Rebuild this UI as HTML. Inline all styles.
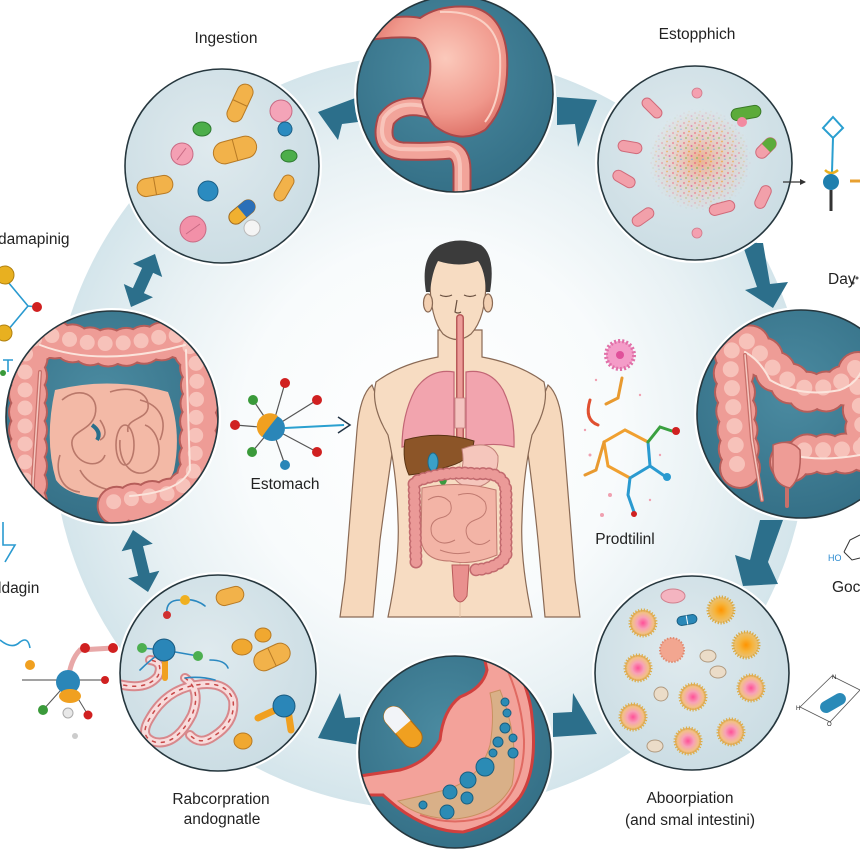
<!DOCTYPE html>
<html><head><meta charset="utf-8"><style>
html,body{margin:0;padding:0;background:#fff;}
svg{display:block}
text{font-family:"Liberation Sans",Arial,sans-serif;fill:#222}
</style></head><body>
<svg width="860" height="860" viewBox="0 0 860 860" xmlns="http://www.w3.org/2000/svg">
<defs>
 <radialGradient id="ring" cx="430" cy="432" r="378" gradientUnits="userSpaceOnUse">
  <stop offset="0" stop-color="#ffffff"/>
  <stop offset="0.5" stop-color="#f8fbfc"/>
  <stop offset="0.76" stop-color="#e8f1f4"/>
  <stop offset="1" stop-color="#d4e5eb"/>
 </radialGradient>
 <radialGradient id="teal" cx="0.45" cy="0.4" r="0.65">
  <stop offset="0" stop-color="#4b8ba1"/>
  <stop offset="1" stop-color="#336e85"/>
 </radialGradient>
 <radialGradient id="lite" cx="0.45" cy="0.4" r="0.65">
  <stop offset="0" stop-color="#dfeaee"/>
  <stop offset="1" stop-color="#cadce3"/>
 </radialGradient>
 <radialGradient id="stom" cx="0.55" cy="0.4" r="0.6">
  <stop offset="0" stop-color="#fbc9bb"/>
  <stop offset="0.7" stop-color="#f0988c"/>
  <stop offset="1" stop-color="#e0766c"/>
 </radialGradient>
 <radialGradient id="gP" cx="0.5" cy="0.5" r="0.5">
  <stop offset="0" stop-color="#ff4f98"/>
  <stop offset="0.45" stop-color="#f7a2b6"/>
  <stop offset="0.8" stop-color="#f2c088"/>
  <stop offset="1" stop-color="#e2a450"/>
 </radialGradient>
 <radialGradient id="gO" cx="0.5" cy="0.5" r="0.5">
  <stop offset="0" stop-color="#ff9400"/>
  <stop offset="0.5" stop-color="#f6b43c"/>
  <stop offset="1" stop-color="#e8c27a"/>
 </radialGradient>
 <radialGradient id="cloud" cx="0.5" cy="0.5" r="0.5">
  <stop offset="0" stop-color="#f0a070" stop-opacity="0.75"/>
  <stop offset="0.6" stop-color="#f3b4a0" stop-opacity="0.35"/>
  <stop offset="1" stop-color="#f3b4a0" stop-opacity="0"/>
 </radialGradient>
 <radialGradient id="maskG" cx="0.5" cy="0.5" r="0.5">
  <stop offset="0" stop-color="#fff"/>
  <stop offset="0.6" stop-color="#bbb"/>
  <stop offset="1" stop-color="#000"/>
 </radialGradient>
 <pattern id="speck" width="11" height="10" patternUnits="userSpaceOnUse">
  <circle cx="2" cy="3" r="1" fill="#ef6f7f"/>
  <circle cx="7" cy="1.5" r="0.9" fill="#f2a030"/>
  <circle cx="9.5" cy="6" r="1" fill="#e0609a"/>
  <circle cx="4" cy="8" r="0.9" fill="#7fb850"/>
  <circle cx="6" cy="5" r="0.8" fill="#f08050"/>
  <circle cx="10" cy="9.3" r="0.7" fill="#5aa0e0"/>
 </pattern>
 <mask id="cm"><circle cx="700" cy="160" r="52" fill="url(#maskG)"/></mask>
 <clipPath id="k1"><circle cx="222" cy="166" r="97"/></clipPath>
 <clipPath id="k2"><circle cx="455" cy="94" r="98"/></clipPath>
 <clipPath id="k3"><circle cx="695" cy="163" r="97"/></clipPath>
 <clipPath id="k4"><circle cx="801" cy="414" r="104"/></clipPath>
 <clipPath id="k5"><circle cx="692" cy="673" r="97"/></clipPath>
 <clipPath id="k6"><circle cx="455" cy="752" r="96"/></clipPath>
 <clipPath id="k7"><circle cx="218" cy="673" r="98"/></clipPath>
 <clipPath id="k8"><circle cx="112" cy="417" r="106"/></clipPath>
 <g id="spP"><circle r="13" fill="url(#gP)" stroke="#dcae4a" stroke-width="3" stroke-dasharray="1.2 1.6"/></g>
 <g id="spO"><circle r="13" fill="url(#gO)" stroke="#d8a840" stroke-width="3" stroke-dasharray="1.2 1.6"/></g>
</defs>

<rect width="860" height="860" fill="#fff"/>
<circle cx="430" cy="432" r="378" fill="url(#ring)"/>

<!-- arrows -->
<g fill="#2c6f8b">
 <polygon points="358,97 318,112 338,140 342,124 358,122"/>
 <polygon points="557,97 597,100 578,147 575,124 557,125"/>
 <polygon points="742,243 763,243 770,284 788,282 773,308 745,290 757,287"/>
 <polygon points="760,520 783,520 768,562 778,584 743,586 735,555 750,560"/>
 <polygon points="553,713 572,712 573,693 597,734 553,737"/>
 <polygon points="360,717 345,718 340,693 318,738 360,745"/>
 <polygon points="133,530 152.8,543.7 143,546.1 149.6,573.1 159.4,570.7 148,592 128.2,578.3 138,575.9 131.4,548.9 121.6,551.3"/>
 <polygon points="155,254 162.2,277 153.1,272.9 143.9,293.1 153,297.2 131,307 123.8,284 132.9,288.1 142.1,267.9 133,263.8"/>
</g>

<!-- circle bases -->
<g stroke="#fff" stroke-width="6" fill="#fff">
 <circle cx="222" cy="166" r="97"/><circle cx="455" cy="94" r="98"/><circle cx="695" cy="163" r="97"/>
 <circle cx="801" cy="414" r="104"/><circle cx="692" cy="673" r="97"/><circle cx="455" cy="752" r="96"/>
 <circle cx="218" cy="673" r="98"/><circle cx="112" cy="417" r="106"/>
</g>
<g fill="url(#lite)">
 <circle cx="222" cy="166" r="97"/><circle cx="695" cy="163" r="97"/><circle cx="692" cy="673" r="97"/><circle cx="218" cy="673" r="98"/>
</g>
<g fill="url(#teal)">
 <circle cx="455" cy="94" r="98"/><circle cx="801" cy="414" r="104"/><circle cx="455" cy="752" r="96"/><circle cx="112" cy="417" r="106"/>
</g>

<!-- C1 pills -->
<g clip-path="url(#k1)">
 <g transform="translate(240,103) rotate(-65)"><rect x="-20" y="-8" width="40" height="16" rx="8" fill="#f2b24a" stroke="#b77a25"/><line x1="0" y1="-8" x2="0" y2="8" stroke="#b77a25"/></g>
 <circle cx="281" cy="111" r="11" fill="#f4a4b8" stroke="#c86a84"/>
 <circle cx="285" cy="129" r="7" fill="#2b8bc0" stroke="#1d5f85"/>
 <ellipse cx="202" cy="129" rx="9" ry="7" fill="#4cae4a" stroke="#2e7a30"/>
 <circle cx="182" cy="154" r="11" fill="#f4a0b4" stroke="#c86a84"/>
 <line x1="177" y1="160" x2="186" y2="148" stroke="#c86a84"/>
 <g transform="translate(235,150) rotate(-15)"><rect x="-22" y="-11" width="44" height="22" rx="11" fill="#f2b24a" stroke="#b77a25"/><line x1="0" y1="-11" x2="0" y2="11" stroke="#b77a25"/></g>
 <ellipse cx="289" cy="156" rx="8" ry="6" fill="#4cae4a" stroke="#2e7a30"/>
 <g transform="translate(155,186) rotate(-10)"><rect x="-18" y="-9" width="36" height="18" rx="9" fill="#f2b24a" stroke="#b77a25"/><line x1="0" y1="-9" x2="0" y2="9" stroke="#b77a25"/></g>
 <circle cx="208" cy="191" r="10" fill="#2b8bc0" stroke="#1d5f85"/>
 <g transform="translate(284,188) rotate(-60)"><rect x="-14" y="-6" width="28" height="12" rx="6" fill="#f2b24a" stroke="#b77a25"/></g>
 <g transform="translate(242,212) rotate(-40)"><rect x="-15" y="-7" width="30" height="14" rx="7" fill="#f0b030" stroke="#a06a20"/><path d="M0,-7 L8,-7 A7,7 0 0 1 8,7 L0,7 Z" fill="#2b6fb8"/></g>
 <circle cx="252" cy="228" r="8" fill="#f4f4f4" stroke="#bbb"/>
 <circle cx="193" cy="229" r="13" fill="#f290a8" stroke="#c86a84"/>
 <line x1="186" y1="234" x2="200" y2="224" stroke="#c86a84"/>
</g>

<!-- C2 stomach -->
<g clip-path="url(#k2)">
 <path d="M432,110 Q400,100 386,120 Q378,148 402,151 Q430,152 450,150 Q462,152 462,170 L462,205" fill="none" stroke="#a8484a" stroke-width="19" stroke-linecap="round"/>
 <path d="M432,110 Q400,100 386,120 Q378,148 402,151 Q430,152 450,150 Q462,152 462,170 L462,205" fill="none" stroke="#f2a49a" stroke-width="15"/>
 <path d="M432,110 Q400,100 386,120 Q378,148 402,151 Q430,152 450,150 Q462,152 462,170 L462,205" fill="none" stroke="#f8c4ba" stroke-width="4" transform="translate(-2,-2)"/>
 <path d="M370,22 Q402,14 420,18 Q440,4 472,7 Q503,14 507,55 Q510,105 485,130 Q460,145 435,126 Q425,115 422,100 Q432,80 430,60 Q426,42 415,38 Q395,36 370,40 Z" fill="url(#stom)" stroke="#a8484a" stroke-width="2"/>
 <path d="M440,12 Q495,10 500,55 Q502,100 485,122" fill="none" stroke="#fad0c4" stroke-width="2"/>
</g>

<!-- C3 particles -->
<g clip-path="url(#k3)">
 <circle cx="700" cy="160" r="50" fill="url(#cloud)"/>
 <circle cx="700" cy="160" r="52" fill="url(#speck)" mask="url(#cm)"/>
 <g fill="#f2a0aa" stroke="#d06a7a">
  <g transform="translate(652,108) rotate(45)"><rect x="-12" y="-5" width="24" height="10" rx="5"/></g>
  <g transform="translate(630,147) rotate(10)"><rect x="-12" y="-5.5" width="24" height="11" rx="5.5"/></g>
  <g transform="translate(624,179) rotate(30)"><rect x="-12" y="-5.5" width="24" height="11" rx="5.5"/></g>
  <g transform="translate(643,217) rotate(-35)"><rect x="-12" y="-5.5" width="24" height="11" rx="5.5"/></g>
  <g transform="translate(722,208) rotate(-15)"><rect x="-13" y="-5.5" width="26" height="11" rx="5.5"/></g>
  <g transform="translate(763,197) rotate(-65)"><rect x="-12" y="-5.5" width="24" height="11" rx="5.5"/></g>
 </g>
 <g transform="translate(746,113) rotate(-10)"><rect x="-15" y="-6" width="30" height="12" rx="6" fill="#5cab3a" stroke="#3a7a28"/></g>
 <circle cx="742" cy="122" r="5" fill="#f28aa0"/>
 <g transform="translate(766,148) rotate(-45)"><rect x="-12" y="-6" width="24" height="12" rx="6" fill="#f2a0aa" stroke="#d06a7a"/><path d="M0,-6 L6,-6 A6,6 0 0 1 6,6 L0,6 Z" fill="#5cab3a"/></g>
 <circle cx="697" cy="93" r="5" fill="#f4a0b0" stroke="#d07a8a" stroke-width="0.8"/>
 <circle cx="697" cy="233" r="5" fill="#f4a0b0" stroke="#d07a8a" stroke-width="0.8"/>
</g>

<!-- C4 colon right -->
<g clip-path="url(#k4)">
 <g fill="none" stroke-linecap="round">
  <path d="M740,468 L733,362 Q735,342 755,346 Q778,382 808,392 Q840,395 862,372 M858,372 L868,450 M790,462 Q805,450 832,455 L875,450" stroke="#b65e5a" stroke-width="42" stroke-dasharray="0 19"/>
  <path d="M740,468 L733,362 Q735,342 755,346 Q778,382 808,392 Q840,395 862,372 M858,372 L868,450 M790,462 Q805,450 832,455 L875,450" stroke="#ee9c96" stroke-width="38" stroke-dasharray="0 19"/>
  <path d="M740,468 L733,362 Q735,342 755,346 Q778,382 808,392 Q840,395 862,372 M858,372 L868,450 M790,462 Q805,450 832,455 L875,450" stroke="#f7c2ba" stroke-width="16" stroke-dasharray="0 19" transform="translate(-3,-4)"/>
  <path d="M745,352 Q760,360 770,380 Q800,398 840,390 Q856,384 862,370" stroke="#fbe4dc" stroke-width="2"/>
  <path d="M745,355 L752,440 L762,500" stroke="#c8706a" stroke-width="4"/>
  <path d="M745,355 L752,440 L762,500" stroke="#f6c8c0" stroke-width="1.5"/>
  <path d="M787,470 L787,506" stroke="#c8706a" stroke-width="4"/>
  <path d="M792,455 Q820,462 860,455" stroke="#fbe4dc" stroke-width="2"/>
 </g>
 <path d="M773,445 Q790,438 800,450 Q802,478 790,488 Q775,485 773,470 Z" fill="#ee9c96" stroke="#b65e5a" stroke-width="1.5"/>
</g>

<!-- C5 spiky balls -->
<g clip-path="url(#k5)">
 <ellipse cx="673" cy="596" rx="12" ry="7" fill="#f4b4c0" stroke="#d0808e"/>
 <g transform="translate(687,620) rotate(-10)"><rect x="-10" y="-4.5" width="20" height="9" rx="4.5" fill="#2a88b8" stroke="#1b5f82"/><line x1="0" y1="-4.5" x2="0" y2="4.5" stroke="#fff"/></g>
 <use href="#spO" x="721" y="610"/>
 <use href="#spP" x="643" y="623"/>
 <circle cx="672" cy="650" r="12" fill="#f2a690" stroke="#e08a70" stroke-width="2" stroke-dasharray="1.5 1.5"/>
 <use href="#spO" x="746" y="645"/>
 <ellipse cx="708" cy="656" rx="8" ry="6" fill="#ebdcc8" stroke="#b09a80"/>
 <ellipse cx="718" cy="672" rx="8" ry="6" fill="#ebdcc8" stroke="#b09a80"/>
 <use href="#spP" x="638" y="668"/>
 <use href="#spP" x="751" y="688"/>
 <use href="#spP" x="693" y="697"/>
 <ellipse cx="661" cy="694" rx="7" ry="7" fill="#ebdcc8" stroke="#b09a80"/>
 <use href="#spP" x="633" y="717"/>
 <use href="#spP" x="731" y="732"/>
 <use href="#spP" x="688" y="741"/>
 <ellipse cx="655" cy="746" rx="8" ry="6" fill="#ebdcc8" stroke="#b09a80"/>
</g>

<!-- C6 stomach cross-section -->
<g clip-path="url(#k6)">
 <path d="M483,652 L510,652 Q530,690 532,717 Q538,770 520,797 Q500,823 463,832 Q430,832 397,807 Q385,797 383,795 L360,795 L360,776 L400,770 Q427,763 440,740 Q443,710 460,697 Q483,688 487,670 Z" fill="#f3a29a" stroke="#d0403e" stroke-width="3"/>
 <path d="M505,665 Q522,700 524,740 Q525,790 490,815 Q455,828 420,815" fill="none" stroke="#e06a62" stroke-width="2"/>
 <path d="M500,690 Q520,740 512,785 Q497,815 455,819 Q420,819 398,801 Q422,796 445,790 Q480,780 490,745 Q495,715 490,693 Z" fill="#d9b088" stroke="#c89060" stroke-width="1"/>
 <g fill="#2b8bb5" stroke="#1a5f80" stroke-width="1">
  <circle cx="505" cy="702" r="4"/><circle cx="507" cy="713" r="4"/><circle cx="505" cy="728" r="5"/>
  <circle cx="498" cy="742" r="5"/><circle cx="513" cy="738" r="4"/><circle cx="513" cy="753" r="5"/>
  <circle cx="493" cy="753" r="4"/><circle cx="485" cy="767" r="9"/><circle cx="468" cy="780" r="8"/>
  <circle cx="450" cy="792" r="7"/><circle cx="467" cy="798" r="6"/><circle cx="447" cy="812" r="7"/>
  <circle cx="423" cy="805" r="4"/>
 </g>
 <g transform="translate(403,727) rotate(49)"><rect x="-24" y="-10" width="48" height="20" rx="10" fill="#f0a020" stroke="#b06a10"/><path d="M0,-10 L-14,-10 A10,10 0 0 0 -14,10 L0,10 Z" fill="#f2f4f8"/></g>
</g>

<!-- C7 molecules / ribbons -->
<g clip-path="url(#k7)">
 <g fill="none" stroke-linecap="round">
  <path d="M115,683 Q145,692 158,676 Q164,662 150,660 M185,678 Q202,690 192,715 Q176,746 155,742 Q138,737 150,718 Q166,690 196,685 Q226,680 233,700 Q236,722 214,736 Q200,746 190,735" stroke="#d8888c" stroke-width="10"/>
  <path d="M115,683 Q145,692 158,676 Q164,662 150,660 M185,678 Q202,690 192,715 Q176,746 155,742 Q138,737 150,718 Q166,690 196,685 Q226,680 233,700 Q236,722 214,736 Q200,746 190,735" stroke="#f8dcdc" stroke-width="6"/>
  <path d="M115,683 Q145,692 158,676 Q164,662 150,660 M185,678 Q202,690 192,715 Q176,746 155,742 Q138,737 150,718 Q166,690 196,685 Q226,680 233,700 Q236,722 214,736 Q200,746 190,735" stroke="#c84848" stroke-width="1.5" stroke-dasharray="3 6"/>
  <path d="M167,615 Q165,600 180,600 Q195,598 205,606 M164,650 L142,648 M164,650 L198,656 M210,660 Q225,660 228,668 M164,650 Q150,660 140,670 M185,678 Q200,676 215,680" stroke="#2a88c0" stroke-width="1.6"/>
 </g>
 <line x1="165" y1="660" x2="165" y2="678" stroke="#f0a020" stroke-width="6" stroke-linecap="round"/>
 <circle cx="164" cy="650" r="11" fill="#2a86b8" stroke="#1a5a80"/>
 <circle cx="142" cy="648" r="5" fill="#4caf50"/><circle cx="198" cy="656" r="5" fill="#4caf50"/>
 <circle cx="185" cy="600" r="5" fill="#f0b020"/><circle cx="167" cy="615" r="4" fill="#d03030"/>
 <g transform="translate(230,596) rotate(-15)"><rect x="-14" y="-8" width="28" height="16" rx="8" fill="#f2b24a" stroke="#b77a25"/></g>
 <ellipse cx="263" cy="635" rx="8" ry="7" fill="#f0a830" stroke="#b77a25"/>
 <ellipse cx="242" cy="647" rx="10" ry="8" fill="#f0a830" stroke="#b77a25"/>
 <g transform="translate(272,657) rotate(-25)"><rect x="-19" y="-10" width="38" height="20" rx="10" fill="#f2b24a" stroke="#b77a25"/><line x1="0" y1="-10" x2="0" y2="10" stroke="#b77a25"/></g>
 <line x1="284" y1="706" x2="258" y2="718" stroke="#f0a020" stroke-width="7" stroke-linecap="round"/>
 <line x1="288" y1="710" x2="291" y2="730" stroke="#f0a020" stroke-width="7" stroke-linecap="round"/>
 <circle cx="284" cy="706" r="11" fill="#2a86b8" stroke="#1a5a80"/>
 <ellipse cx="243" cy="741" rx="9" ry="8" fill="#f0a830" stroke="#b77a25"/>
</g>

<!-- C8 colon left -->
<g clip-path="url(#k8)">
 <path d="M55,390 Q110,376 168,392 Q182,430 174,470 Q166,496 120,498 Q70,500 56,480 Q44,440 55,390 Z" fill="#f3b9a6"/>
 <g fill="none" stroke="#b9786a" stroke-width="1.6">
  <path d="M62,400 C80,385 100,395 95,415 C90,432 70,430 72,445 C75,465 100,470 105,455"/>
  <path d="M110,392 C130,385 150,392 148,408 C146,420 125,418 128,432"/>
  <path d="M120,440 C118,465 135,480 150,470 C165,460 160,430 145,425"/>
  <path d="M80,470 C90,490 120,495 140,488"/>
  <path d="M140,400 C160,405 168,420 160,440"/>
  <ellipse cx="125" cy="445" rx="9" ry="20"/>
  <path d="M60,455 C55,470 60,490 80,492"/>
  <path d="M100,420 Q110,435 100,440"/>
 </g>
 <path d="M92,425 Q102,432 97,440" fill="none" stroke="#2a6f8b" stroke-width="4"/>
 <g fill="none" stroke-linecap="round">
  <path d="M28,520 L28,362 Q30,336 60,340 Q110,356 175,338 Q200,345 200,380 L198,470 Q190,500 150,500 L115,506" stroke="#b65e5a" stroke-width="40" stroke-dasharray="0 18"/>
  <path d="M28,520 L28,362 Q30,336 60,340 Q110,356 175,338 Q200,345 200,380 L198,470 Q190,500 150,500 L115,506" stroke="#ee9c96" stroke-width="36" stroke-dasharray="0 18"/>
  <path d="M28,520 L28,362 Q30,336 60,340 Q110,356 175,338 Q200,345 200,380 L198,470 Q190,500 150,500 L115,506" stroke="#f7c2ba" stroke-width="15" stroke-dasharray="0 18" transform="translate(-3,-4)"/>
  <path d="M40,345 Q100,368 185,345" stroke="#fbe4dc" stroke-width="2"/>
  <path d="M186,350 L190,470 Q180,492 130,496" stroke="#fbe4dc" stroke-width="2"/>
  <path d="M40,372 L33,480 L33,520" stroke="#c8706a" stroke-width="4"/>
  <path d="M40,372 L33,480 L33,520" stroke="#f6c8c0" stroke-width="1.5"/>
 </g>
</g>

<!-- circle outlines -->
<g fill="none" stroke="#26373e" stroke-width="1.6">
 <circle cx="222" cy="166" r="97"/><circle cx="455" cy="94" r="98"/><circle cx="695" cy="163" r="97"/>
 <circle cx="801" cy="414" r="104"/><circle cx="692" cy="673" r="97"/><circle cx="455" cy="752" r="96"/>
 <circle cx="218" cy="673" r="98"/><circle cx="112" cy="417" r="106"/>
</g>

<!-- human figure -->
<g stroke="#8a6a55" stroke-width="1.2">
 <path d="M372,385 Q360,395 357,430 L345,580 L340,617 L373,617 L380,540 Q388,480 394,440 Z" fill="#f6d8bc"/>
 <path d="M548,385 Q560,395 563,430 L575,580 L580,617 L545,617 L538,540 Q532,480 526,440 Z" fill="#f6d8bc"/>
 <path d="M438,330 L438,357 Q400,364 376,382 Q370,405 388,435 Q397,475 398,520 Q400,560 388,617 L532,617 Q520,560 522,520 Q523,475 532,435 Q550,405 544,382 Q520,364 482,357 L482,330 Z" fill="#f7dcc2"/>
 <path d="M430,280 Q430,250 457,248 Q486,250 486,280 Q486,318 471,334 Q457,345 443,334 Q430,318 430,280 Z" fill="#f7dcc2"/>
 <ellipse cx="428" cy="303" rx="4.5" ry="9" fill="#f3d0b2"/>
 <ellipse cx="488" cy="303" rx="4.5" ry="9" fill="#f3d0b2"/>
</g>
<path d="M426,292 Q420,256 440,245 Q460,236 481,245 Q496,256 490,292 L486,292 Q485,270 478,261 Q460,268 438,261 Q432,272 430,292 Z" fill="#3b3b3b"/>
<g fill="none" stroke="#6a5040" stroke-width="1.2">
 <path d="M440,295 Q446,298 452,295"/><path d="M464,295 Q470,298 476,295"/>
 <path d="M457,300 L455,312 Q458,314 461,312"/>
 <path d="M460,360 L460,617" stroke="#e0c0a4" stroke-width="1"/>
</g>
<line x1="460" y1="318" x2="460" y2="440" stroke="#b85a5a" stroke-width="8" stroke-linecap="round"/>
<line x1="460" y1="318" x2="460" y2="440" stroke="#ec9c98" stroke-width="5" stroke-linecap="round"/>
<g stroke="#c26675" stroke-width="1.2">
 <path d="M454,372 Q430,368 415,390 Q402,415 402,447 Q428,441 454,449 Z" fill="#f2a4ae"/>
 <path d="M466,372 Q490,368 503,390 Q515,415 514,447 Q490,441 466,449 Z" fill="#f2a4ae"/>
</g>
<rect x="455" y="398" width="10" height="30" fill="#f4c4c0" stroke="#c88080" stroke-width="0.8"/>
<path d="M405,440 Q440,430 474,441 Q472,460 450,466 Q430,473 409,475 Q402,460 405,440 Z" fill="#8c5528" stroke="#5a3414" stroke-width="1"/>
<path d="M462,449 Q490,438 498,456 Q499,479 481,486 Q462,489 455,479 Q466,471 462,449 Z" fill="#f5c6bc" stroke="#c08078" stroke-width="1"/>
<ellipse cx="433" cy="462" rx="5" ry="9" fill="#3aa0c8" stroke="#1e6a8a"/>
<ellipse cx="443" cy="479" rx="4" ry="6" fill="#3a9a40"/>
<path d="M422,488 Q460,480 496,490 L497,555 Q470,566 450,561 Q424,561 421,540 Z" fill="#f3b4a6" stroke="#c07a70" stroke-width="1"/>
<g fill="none" stroke="#c07a70" stroke-width="1">
 <path d="M428,500 Q440,492 450,502 Q455,515 440,518 Q428,522 432,535 Q440,548 455,540"/>
 <path d="M458,495 Q475,490 485,502 Q490,515 475,520 Q462,525 468,538 Q478,550 490,540"/>
 <path d="M440,550 Q455,556 470,552"/>
</g>
<path d="M416,562 L414,482 Q445,470 478,474 Q505,471 506,492 L506,556 Q496,570 470,570" fill="none" stroke="#c26a6e" stroke-width="13" stroke-linecap="round" stroke-dasharray="0 6"/>
<path d="M416,562 L414,482 Q445,470 478,474 Q505,471 506,492 L506,556 Q496,570 470,570" fill="none" stroke="#eb9a98" stroke-width="10" stroke-linecap="round" stroke-dasharray="0 6"/>
<path d="M452,565 L469,565 L467,596 Q460,608 454,596 Z" fill="#e9908e" stroke="#b85a5a"/>

<!-- center-left molecule -->
<g stroke="#555" stroke-width="1.2">
 <line x1="272" y1="428" x2="285" y2="383"/><line x1="272" y1="428" x2="253" y2="400"/><line x1="272" y1="428" x2="317" y2="400"/>
 <line x1="272" y1="428" x2="235" y2="425"/><line x1="272" y1="428" x2="252" y2="452"/><line x1="272" y1="428" x2="317" y2="452"/>
 <line x1="272" y1="428" x2="285" y2="465"/>
</g>
<circle cx="285" cy="383" r="5" fill="#d02020"/><circle cx="253" cy="400" r="5" fill="#3a9a3a"/><circle cx="317" cy="400" r="5" fill="#d02020"/>
<circle cx="235" cy="425" r="5" fill="#d02020"/><circle cx="252" cy="452" r="5" fill="#3a9a3a"/><circle cx="317" cy="452" r="5" fill="#d02020"/>
<circle cx="285" cy="465" r="5" fill="#2a86b8"/>
<line x1="285" y1="428" x2="344" y2="425" stroke="#2aa0d0" stroke-width="2"/>
<polyline points="338,417 350,425 338,433" fill="none" stroke="#234" stroke-width="1.5"/>
<circle cx="272" cy="428" r="13" fill="#2a86b8"/>
<path d="M262,437 A13,13 0 0 1 278,416 Q268,428 262,437 Z" fill="#f0a020"/>

<!-- center-right molecule -->
<circle cx="620" cy="355" r="14" fill="#f49cc8" stroke="#e070a8" stroke-width="4" stroke-dasharray="2 2"/>
<circle cx="620" cy="355" r="4" fill="#e0509a"/>
<g fill="none" stroke-width="3" stroke-linecap="round">
 <path d="M622,378 L618,398 L606,404" stroke="#e89a30"/>
 <path d="M590,400 Q584,420 598,425" stroke="#e05030"/>
 <path d="M604,442 L625,430 L648,442" stroke="#f0a030"/>
 <path d="M648,442 L650,466 L630,478" stroke="#2a9ad0"/>
 <path d="M630,478 L608,466 L604,442" stroke="#f0a030"/>
 <path d="M648,442 L660,427 L672,431" stroke="#3aa040"/>
 <path d="M650,466 L666,477" stroke="#2a9ad0"/>
 <path d="M630,478 L628,495 L634,512" stroke="#2a9ad0"/>
 <path d="M604,442 L596,470 L585,475" stroke="#e89a30"/>
</g>
<circle cx="676" cy="431" r="4" fill="#d02020"/><circle cx="667" cy="477" r="4" fill="#2a9ad0"/><circle cx="634" cy="514" r="3" fill="#d02020"/>
<g fill="#f0a0b0">
 <circle cx="596" cy="380" r="1.2"/><circle cx="640" cy="395" r="1.2"/><circle cx="590" cy="455" r="1.5"/><circle cx="610" cy="495" r="2"/><circle cx="650" cy="500" r="1.2"/><circle cx="602" cy="515" r="2"/><circle cx="660" cy="455" r="1.2"/><circle cx="585" cy="430" r="1.2"/>
</g>

<!-- left edge molecules -->
<g fill="none" stroke="#2a9ad0" stroke-width="1.6">
 <path d="M8,282 L28,306 L8,330 M28,306 L37,307"/>
 <path d="M3,360 L13,360 M8,360 L8,372"/>
 <path d="M3,522 L3,545 L15,545 L5,562"/>
 <path d="M0,640 Q12,650 20,642 Q28,636 30,648"/>
</g>
<circle cx="5" cy="275" r="9" fill="#e8b020" stroke="#b08010"/>
<circle cx="37" cy="307" r="5" fill="#d02020"/>
<circle cx="4" cy="333" r="8" fill="#e8b020" stroke="#b08010"/>
<circle cx="3" cy="373" r="3" fill="#3a9a3a"/>
<!-- bottom-left molecule -->
<line x1="22" y1="680" x2="105" y2="680" stroke="#444" stroke-width="1"/>
<path d="M68,682 Q70,660 80,650 L113,648" fill="none" stroke="#e8a8a8" stroke-width="5"/>
<g stroke="#555" stroke-width="1"><line x1="68" y1="682" x2="43" y2="710"/><line x1="68" y1="682" x2="88" y2="715"/></g>
<circle cx="85" cy="648" r="5" fill="#d02020"/><circle cx="113" cy="648" r="5" fill="#d02020"/>
<circle cx="105" cy="680" r="4" fill="#d02020"/><circle cx="88" cy="715" r="4.5" fill="#d02020"/>
<circle cx="43" cy="710" r="5" fill="#3a9a3a"/><circle cx="68" cy="713" r="5" fill="#e8e8e8" stroke="#aaa"/>
<circle cx="30" cy="665" r="5" fill="#f0a020"/><circle cx="75" cy="736" r="3" fill="#ccc"/>
<circle cx="68" cy="682" r="12" fill="#2a86b8"/>
<ellipse cx="70" cy="696" rx="11" ry="7" fill="#f0a020"/>

<!-- right edge molecules -->
<polygon points="833,117 843,128 833,138 823,128" fill="none" stroke="#2a9fd0" stroke-width="2"/>
<line x1="833" y1="138" x2="832" y2="172" stroke="#2a9fd0" stroke-width="2"/>
<path d="M825,170 Q831,176 838,170" fill="none" stroke="#e8b020" stroke-width="2.5"/>
<line x1="831" y1="190" x2="831" y2="211" stroke="#333" stroke-width="3"/>
<circle cx="831" cy="182" r="8" fill="#1f7fae"/>
<line x1="850" y1="181" x2="860" y2="181" stroke="#e8a030" stroke-width="3"/>
<line x1="783" y1="182" x2="805" y2="182" stroke="#333" stroke-width="1.2"/>
<polygon points="806,182 800,179 800,185" fill="#333"/>
<circle cx="853" cy="283" r="1.5" fill="#555"/><circle cx="857" cy="278" r="1.5" fill="#555"/>
<polyline points="844,552 850,540 860,535" fill="none" stroke="#333" stroke-width="1"/>
<polyline points="844,552 852,560 860,558" fill="none" stroke="#333" stroke-width="1"/>
<text x="828" y="561" font-size="9" style="fill:#2a8ad0">HO</text>
<polygon points="800,707 832,676 860,690 830,722" fill="none" stroke="#555" stroke-width="0.8"/>
<g transform="translate(833,703) rotate(-30)"><rect x="-14" y="-6" width="28" height="12" rx="6" fill="#2a8ab8"/></g>
<text x="832" y="679" font-size="6">N</text><text x="796" y="710" font-size="6">H</text><text x="827" y="726" font-size="6">O</text>

<!-- labels -->
<g font-size="15.5">
 <text x="226" y="43" text-anchor="middle">Ingestion</text>
 <text x="697" y="39" text-anchor="middle">Estopphich</text>
 <text x="-2" y="244">damapinig</text>
 <text x="828" y="284">Day</text>
 <text x="285" y="489" text-anchor="middle">Estomach</text>
 <text x="625" y="544" text-anchor="middle">Prodtilinl</text>
 <text x="832" y="592">Goc</text>
 <text x="-2" y="593">ldagin</text>
 <text x="221" y="804" text-anchor="middle">Rabcorpration</text>
 <text x="222" y="824" text-anchor="middle">andognatle</text>
 <text x="690" y="803" text-anchor="middle">Aboorpiation</text>
 <text x="690" y="825" text-anchor="middle">(and smal intestini)</text>
</g>
</svg>
</body></html>
